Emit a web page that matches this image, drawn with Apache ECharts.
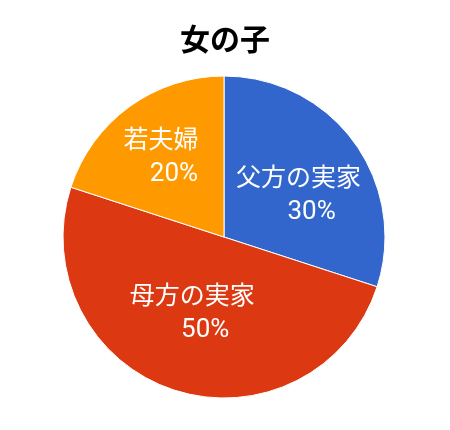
<!DOCTYPE html>
<html><head><meta charset="utf-8">
<script src="https://cdn.jsdelivr.net/npm/echarts@6/dist/echarts.min.js"></script>
<style>html,body{margin:0;padding:0;background:#fff}#c{width:450px;height:430px}</style>
</head><body><div id="c"></div>
<script>
const title = '女の子';
const categories = ['父方の実家', '母方の実家', '若夫婦'];
const values = [30, 50, 20];
const colors = ['#3366CC', '#DC3912', '#FF9900'];
const labelShift = [[7, 7], [-6, -4], [-14, -13]];

const chart = echarts.init(document.getElementById('c'));
chart.setOption({
  animation: false,
  title: {
    text: title, left: 'center', top: 19,
    textStyle: { fontFamily: 'Noto Sans CJK JP', fontWeight: 'bold', fontSize: 30, color: '#000' }
  },
  series: [{
    type: 'pie',
    center: [224, 237],
    radius: [0, 161],
    startAngle: 90,
    clockwise: true,
    data: categories.map((c, i) => ({ name: c, value: values[i], itemStyle: { color: colors[i] } })),
    itemStyle: { borderColor: '#fff', borderWidth: 1 },
    label: {
      position: 'inside',
      formatter: p => '{n|' + p.name + '}\n{p|' + p.percent + '%}',
      rich: {
        n: { fontFamily: 'Noto Sans CJK JP', fontSize: 25, color: '#fff', lineHeight: 36 },
        p: { fontFamily: 'Roboto', fontSize: 26, color: '#fff', lineHeight: 36, padding: [0, 0, 0, 26] }
      }
    },
    labelLine: { show: false },
    labelLayout: p => ({ dx: labelShift[p.dataIndex][0], dy: labelShift[p.dataIndex][1] })
  }]
});
</script></body></html>
